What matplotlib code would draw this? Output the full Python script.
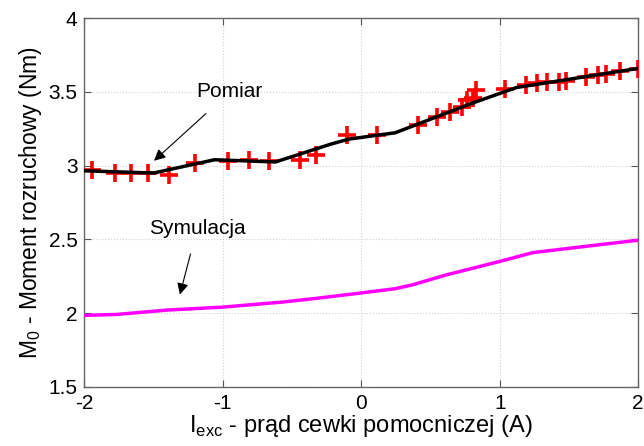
import matplotlib
matplotlib.use("Agg")
import matplotlib.pyplot as plt

plt.rcParams['font.family'] = ['Liberation Sans', 'DejaVu Sans']

# Measured points (Pomiar)
meas_x = [-1.945, -1.78, -1.66, -1.54, -1.39, -1.20, -0.96, -0.81, -0.67, -0.44, -0.33,
          -0.10, 0.11, 0.41, 0.55, 0.64, 0.73, 0.76, 0.81, 0.83, 1.04, 1.19, 1.27, 1.34,
          1.43, 1.48, 1.62, 1.71, 1.77, 1.87, 2.0]
meas_y = [2.97, 2.947, 2.95, 2.95, 2.935, 3.015, 3.03, 3.04, 3.03, 3.04, 3.07,
          3.21, 3.21, 3.275, 3.33, 3.365, 3.40, 3.445, 3.46, 3.51, 3.52, 3.545, 3.56, 3.57,
          3.57, 3.575, 3.60, 3.615, 3.62, 3.645, 3.655]

# Fitted measurement curve (black)
fit_x = [-2.0, -1.5, -1.06, -0.62, -0.22, -0.09, 0.245, 0.79, 1.12, 2.0]
fit_y = [2.965, 2.95, 3.04, 3.025, 3.146, 3.18, 3.223, 3.42, 3.53, 3.66]

# Simulation curve (magenta)
sim_x = [-2.0, -1.77, -1.40, -1.0, -0.56, -0.32, 0.0, 0.245, 0.365, 0.62, 1.0, 1.24, 1.6, 2.0]
sim_y = [1.984, 1.99, 2.02, 2.04, 2.075, 2.10, 2.136, 2.165, 2.19, 2.26, 2.35, 2.41, 2.45, 2.494]

xticks = [-2, -1, 0, 1, 2]
yticks = [1.5, 2, 2.5, 3, 3.5, 4]

fig = plt.figure(figsize=(6.44, 4.46), dpi=100)
ax = fig.add_axes([0.131, 0.133, 0.860, 0.826])

ax.plot(meas_x, meas_y, linestyle='none', marker='+', color='red', markersize=13, mew=2.6, zorder=3)
ax.plot(fit_x, fit_y, color='black', lw=2.5, zorder=4)
ax.plot(sim_x, sim_y, color='magenta', lw=2.5, zorder=4)

ax.set_xlim(-2, 2)
ax.set_ylim(1.5, 4)
ax.set_xticks(xticks)
ax.set_yticks(yticks)
ax.set_xticklabels(['-2', '-1', '0', '1', '2'])
ax.set_yticklabels(['1.5', '2', '2.5', '3', '3.5', '4'])
ax.tick_params(direction='in', top=True, right=True, labelsize=15, length=5, color='#555555', pad=5)
for s in ax.spines.values():
    s.set_color('#666666')
    s.set_linewidth(1.0)
ax.grid(True, linestyle=':', color='#d0d0d0', lw=0.8)
ax.set_axisbelow(True)

ax.set_xlabel(r'I$_{\mathregular{exc}}$ - prąd cewki pomocniczej (A)', fontsize=17, labelpad=0)
ax.set_ylabel(r'M$_{\mathregular{0}}$ - Moment rozruchowy (Nm)', fontsize=16.5, labelpad=3)

ax.annotate('Pomiar', xy=(-1.497, 3.033), xytext=(-0.95, 3.5), fontsize=15,
            ha='center', va='center',
            arrowprops=dict(arrowstyle='-|>', color='black', lw=0.8, mutation_scale=17,
                            shrinkA=10, shrinkB=0))
ax.annotate('Symulacja', xy=(-1.31, 2.125), xytext=(-1.185, 2.575), fontsize=15,
            ha='center', va='center',
            arrowprops=dict(arrowstyle='-|>', color='black', lw=0.8, mutation_scale=17,
                            shrinkA=10, shrinkB=0))

fig.savefig('out.png', dpi=100)
